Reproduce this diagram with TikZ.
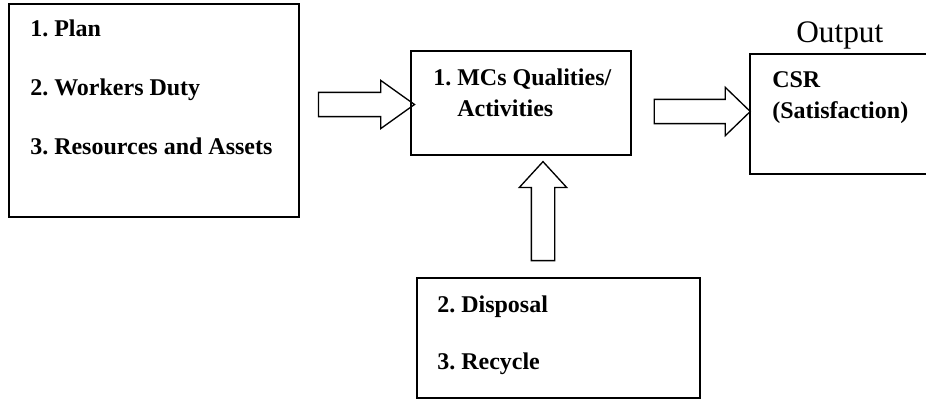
\documentclass[tikz,border=0pt]{standalone}
\usepackage{fontspec}
\setmainfont{Liberation Serif}
\usepackage{tikz}
\usetikzlibrary{shapes.arrows, positioning}
\frenchspacing

\begin{document}
\begin{tikzpicture}[
    x=0.75pt, y=-0.75pt,
    box/.style={rectangle, draw=black, line width=1.5pt, inner sep=0pt},
    item/.style={anchor=base west, inner sep=0pt, font=\fontsize{18}{20}\selectfont\bfseries},
    fatarrow/.style={single arrow, draw=black, line width=1pt, inner sep=0pt, minimum width=0pt, single arrow head extend=9pt}
]
    \useasboundingbox (0,0) rectangle (926,399);
    \clip (0,0) rectangle (926,399);

    % Boxes
    \node[box, minimum width=217.5pt, minimum height=159.75pt] (inputs) at (154,110.5) {};
    \node[box, minimum width=165pt, minimum height=78pt] (process) at (521,103) {};
    \node[box, minimum width=150pt, minimum height=90pt] (output) at (850,114) {};
    \node[box, minimum width=212.25pt, minimum height=90pt] (waste) at (558.5,338) {};

    % Texts
    \node[item] (plan) at (30,37) {1. Plan};
    \node[item] (duty) at (30,96) {2. Workers Duty};
    \node[item] (assets) at (30,155) {3. Resources and Assets};
    \node[item] (mcs) at (433,85.5) {1. MCs Qualities/};
    \node[item] (activities) at (457,116.5) {Activities};
    \node[item] (csr) at (772,88) {CSR};
    \node[item] (satisfaction) at (772,118.5) {(Satisfaction)};
    \node[item] (disposal) at (437,313) {2. Disposal};
    \node[item] (recycle) at (437,369) {3. Recycle};
    \node[anchor=base west, inner sep=0pt, font=\fontsize{23.5}{26}\selectfont] (outlabel) at (796,43) {Output};

    % Arrows
    \node[fatarrow, minimum height=72pt, inner ysep=8.6pt, single arrow tip angle=71] (toprocess) at (358,104.5) {};
    \node[fatarrow, minimum height=72pt, inner ysep=8.6pt, single arrow tip angle=88] (tooutput) at (696,111.5) {};
    \node[fatarrow, minimum height=74.25pt, inner ysep=8.25pt, single arrow tip angle=85, rotate=90] (fromwaste) at (543,217.5) {};
\end{tikzpicture}
\end{document}
